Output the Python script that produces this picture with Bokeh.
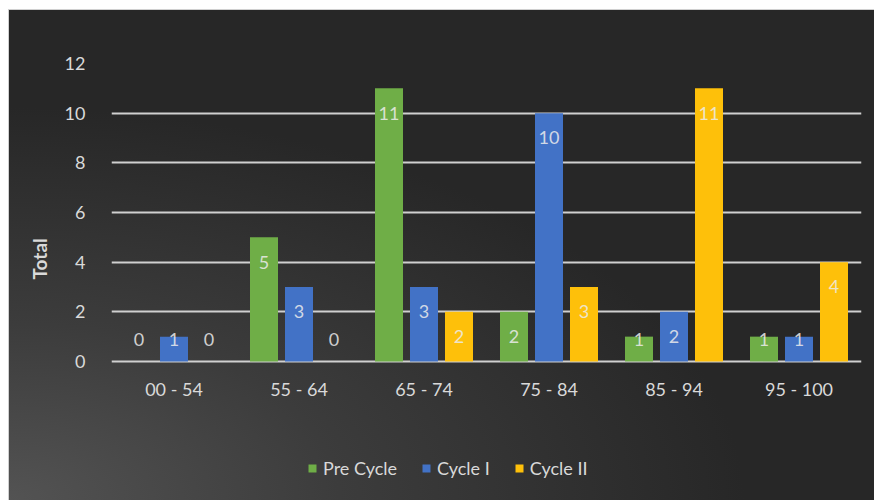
from bokeh.plotting import figure
from bokeh.models import (ColumnDataSource, FactorRange, Range1d, FixedTicker,
                          Legend, LegendItem, Title)
from bokeh.transform import dodge
from bokeh.core.properties import value
from bokeh.embed import file_html
from bokeh.resources import INLINE

# Score bands and counts per assessment cycle
score_bands = ["00 - 54", "55 - 64", "65 - 74", "75 - 84", "85 - 94", "95 - 100"]
pre_cycle = [0, 5, 11, 2, 1, 1]
cycle_one = [1, 3, 3, 10, 2, 1]
cycle_two = [0, 0, 2, 3, 11, 4]
series_names = ["Pre Cycle", "Cycle I", "Cycle II"]
series_colors = ["#6fae47", "#4272c6", "#fec00a"]
y_ticks = [0, 2, 4, 6, 8, 10, 12]

FONT = "Lato"
TEXT = "#d9d9d9"

# the frame runs down to the bottom edge so the legend can sit under the category axis
p = figure(
    x_range=FactorRange(*score_bands), y_range=Range1d(-5.64, 12),
    width=866, height=491, output_backend="svg", toolbar_location=None,
    min_border_left=102, min_border_right=14, min_border_top=53, min_border_bottom=0,
    border_fill_color=None, background_fill_color=None, outline_line_color=None,
)
p.margin = (9, 0, 0, 8)
p.styles = {
    "background": "radial-gradient(ellipse 85% 80% at 0% 100%, #535353 0%, #3c3c3c 45%, #272727 100%)",
    "border-top": "1px solid #d0d0d0",
    "border-left": "1px solid #d0d0d0",
}

# grid
p.xgrid.grid_line_color = None
p.ygrid.grid_line_color = "#d0d0d0"
p.ygrid.grid_line_width = 2
p.yaxis.ticker = FixedTicker(ticks=y_ticks)

for ax in (p.xaxis, p.yaxis):
    ax.axis_line_color = None
    ax.major_tick_line_color = None
    ax.minor_tick_line_color = None
    ax.major_label_text_font = FONT
    ax.major_label_text_font_size = "18px"
    ax.major_label_text_color = TEXT

p.xaxis.fixed_location = 0
p.yaxis.major_label_standoff = 20
p.xaxis.major_label_standoff = 11

# y-axis title, kept level with the plotted range rather than the full frame
p.add_layout(Title(text="Total", align="left", offset=222, standoff=18,
                   vertical_align="top", text_font=FONT, text_font_size="19px",
                   text_font_style="bold", text_color=TEXT), "left")

offsets = [-0.28, 0.0, 0.28]
bar_width = 0.224
items = []
for name, vals, color, off in zip(series_names, [pre_cycle, cycle_one, cycle_two], series_colors, offsets):
    src = ColumnDataSource(dict(
        band=score_bands,
        count=vals,
        label=[str(v) for v in vals],
        label_y=[max(v - 1.0, 0.89) for v in vals],
    ))
    r = p.vbar(x=dodge("band", off, range=p.x_range), top="count", width=bar_width,
               source=src, fill_color=color, line_color=None)
    p.text(x=dodge("band", off, range=p.x_range), y="label_y", text="label", source=src,
           text_font=value(FONT), text_font_size="18px", text_color="#ececec", text_alpha=0.85,
           text_align="center", text_baseline="middle")
    items.append(LegendItem(label=name, renderers=[r]))

legend = Legend(items=items, orientation="horizontal", location=(196, 22),
                background_fill_alpha=0, border_line_color=None,
                label_text_font=FONT, label_text_font_size="18px", label_text_color=TEXT,
                glyph_width=10, glyph_height=10, label_standoff=6, spacing=24,
                padding=0, margin=0)
p.add_layout(legend)

open("out.html", "w").write(file_html(p, INLINE))
